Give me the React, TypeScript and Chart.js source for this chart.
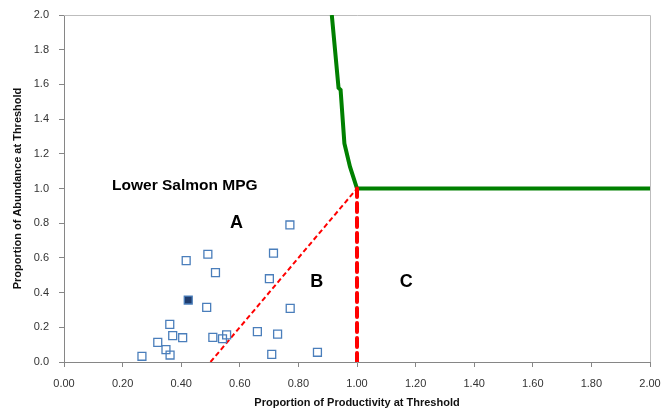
import React, { useEffect, useRef } from "react";
import { Chart, registerables } from "chart.js";

Chart.register(...registerables);

// Population points (proportion of productivity, proportion of abundance)
const popX = [0.266, 0.417, 0.491, 0.517, 0.715, 0.701, 0.487, 0.772, 0.771, 0.361, 0.371, 0.405, 0.320, 0.348, 0.362, 0.508, 0.541, 0.555, 0.660, 0.729, 0.709, 0.865];
const popY = [0.033, 0.584, 0.621, 0.515, 0.627, 0.480, 0.315, 0.309, 0.790, 0.217, 0.152, 0.140, 0.113, 0.071, 0.040, 0.142, 0.134, 0.156, 0.175, 0.161, 0.044, 0.056];

// Highlighted (filled) population
const hiX = [0.424];
const hiY = [0.357];

// Green viability curve
const curveX = [0.914, 0.937, 0.944, 0.957, 0.976, 1.0, 2.0];
const curveY = [2.0, 1.58, 1.568, 1.26, 1.126, 1.0, 1.0];

// Red dashed diagonal boundary
const diagX = [0.5, 1.0];
const diagY = [0.0, 1.0];

// Red thick dashed vertical boundary
const vertX = [1.0, 1.0];
const vertY = [0.0, 1.0];

const xTicks = [0, 0.2, 0.4, 0.6, 0.8, 1.0, 1.2, 1.4, 1.6, 1.8, 2.0];
const yTicks = [0, 0.2, 0.4, 0.6, 0.8, 1.0, 1.2, 1.4, 1.6, 1.8, 2.0];

const labels = [
  { text: "Lower Salmon MPG", x: 0.164, y: 1.017, size: 15.5, align: "left" as CanvasTextAlign },
  { text: "A", x: 0.589, y: 0.80, size: 18, align: "center" as CanvasTextAlign },
  { text: "B", x: 0.863, y: 0.461, size: 18, align: "center" as CanvasTextAlign },
  { text: "C", x: 1.168, y: 0.461, size: 18, align: "center" as CanvasTextAlign },
];

const zip = (xs: number[], ys: number[]) => xs.map((x, i) => ({ x, y: ys[i] }));

const FONT = "'Liberation Sans', Arial, sans-serif";

export default function App() {
  const ref = useRef<HTMLCanvasElement | null>(null);

  useEffect(() => {
    if (!ref.current) return;
    document.body.style.margin = "0";

    const boxPlugin = {
      id: "box",
      beforeDatasetsDraw(chart: any) {
        const { ctx, chartArea } = chart;
        ctx.save();
        ctx.strokeStyle = "#bdbdbd";
        ctx.lineWidth = 1;
        ctx.beginPath();
        ctx.moveTo(chartArea.left, chartArea.top + 0.5);
        ctx.lineTo(chartArea.right + 0.5, chartArea.top + 0.5);
        ctx.lineTo(chartArea.right + 0.5, chartArea.bottom);
        ctx.stroke();
        ctx.restore();
      },
    };

    const textPlugin = {
      id: "labels",
      afterDatasetsDraw(chart: any) {
        const { ctx, scales } = chart;
        ctx.save();
        ctx.fillStyle = "#000";
        ctx.textBaseline = "middle";
        for (const l of labels) {
          ctx.font = `bold ${l.size}px ${FONT}`;
          ctx.textAlign = l.align;
          ctx.fillText(l.text, scales.x.getPixelForValue(l.x), scales.y.getPixelForValue(l.y));
        }
        ctx.restore();
      },
    };

    const chart = new Chart(ref.current, {
      type: "scatter",
      data: {
        datasets: [
          {
            type: "line",
            data: zip(curveX, curveY),
            borderColor: "#008000",
            borderWidth: 4,
            pointRadius: 0,
            fill: false,
            tension: 0,
            order: 5,
          } as any,
          {
            type: "line",
            data: zip(diagX, diagY),
            borderColor: "#ff0000",
            borderWidth: 2,
            borderDash: [5, 3],
            pointRadius: 0,
            fill: false,
            order: 4,
          } as any,
          {
            type: "line",
            data: zip(vertX, vertY),
            borderColor: "#ff0000",
            borderWidth: 4,
            borderDash: [9, 6],
            borderCapStyle: "round",
            pointRadius: 0,
            fill: false,
            order: 3,
          } as any,
          {
            data: zip(popX, popY),
            pointStyle: "rect",
            pointRadius: 5.6,
            borderWidth: 1.3,
            borderColor: "#4a7ebb",
            backgroundColor: "rgba(255,255,255,0)",
            order: 2,
          },
          {
            data: zip(hiX, hiY),
            pointStyle: "rect",
            pointRadius: 5.6,
            borderWidth: 1.3,
            borderColor: "#4a7ebb",
            backgroundColor: "#1f3c6e",
            order: 1,
          },
        ],
      },
      options: {
        responsive: false,
        animation: false,
        layout: { padding: { top: 15, right: 12, left: 0, bottom: 0 } },
        plugins: { legend: { display: false }, tooltip: { enabled: false } },
        scales: {
          x: {
            type: "linear",
            min: 0,
            max: 2,
            afterBuildTicks: (s: any) => {
              s.ticks = xTicks.map((v) => ({ value: v }));
            },
            afterFit: (s: any) => {
              s.height = 49;
              s.paddingRight = 0;
              s.paddingLeft = 0;
            },
            ticks: {
              padding: 10,
              color: "#333",
              font: { family: FONT, size: 11 },
              callback: (v: any) => Number(v).toFixed(2),
            },
            grid: { drawOnChartArea: false, drawTicks: true, tickLength: 5, color: "#868686" },
            border: { display: true, color: "#868686", width: 1 },
            title: {
              display: true,
              text: "Proportion of Productivity at Threshold",
              color: "#111",
              font: { family: FONT, size: 11, weight: "bold" },
              padding: { top: 0, bottom: 1 },
            },
          },
          y: {
            type: "linear",
            min: 0,
            max: 2,
            afterBuildTicks: (s: any) => {
              s.ticks = yTicks.map((v) => ({ value: v }));
            },
            afterFit: (s: any) => {
              s.width = 64;
              s.paddingTop = 0;
              s.paddingBottom = 0;
            },
            ticks: {
              padding: 10,
              color: "#333",
              font: { family: FONT, size: 11 },
              callback: (v: any) => Number(v).toFixed(1),
            },
            grid: { drawOnChartArea: false, drawTicks: true, tickLength: 5, color: "#868686" },
            border: { display: true, color: "#868686", width: 1 },
            title: {
              display: true,
              text: "Proportion of Abundance at Threshold",
              color: "#111",
              font: { family: FONT, size: 11, weight: "bold" },
              padding: { top: 11, bottom: 0 },
            },
          },
        },
      } as any,
      plugins: [boxPlugin, textPlugin],
    });

    return () => chart.destroy();
  }, []);

  return (
    <div style={{ position: "absolute", left: 0, top: 0, width: 662, height: 411 }}>
      <canvas ref={ref} width={662} height={411} />
    </div>
  );
}
